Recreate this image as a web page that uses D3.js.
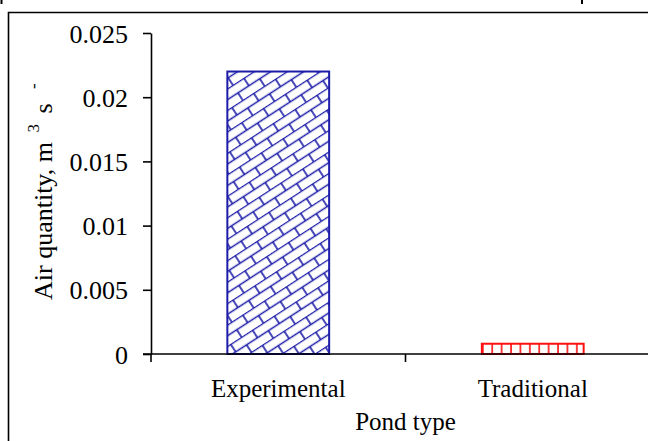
<!DOCTYPE html>
<html>
<head>
<meta charset="utf-8">
<script src="https://cdn.jsdelivr.net/npm/d3@7"></script>
<style>
  body { margin: 0; background: #fff; }
  svg { display: block; font-family: "Liberation Serif", "Times New Roman", serif; }
</style>
</head>
<body>
<svg width="648" height="441"></svg>
<script>
const categories = ['Experimental', 'Traditional']
const airQuantity = [0.022, 0.0008]
const yTicks = [0, 0.005, 0.01, 0.015, 0.02, 0.025]
const yTickLabels = ['0', '0.005', '0.01', '0.015', '0.02', '0.025']

const svg = d3.select('svg')
const plotLeft = 151, plotRight = 660, plotTop = 33, plotBottom = 354

const x = d3.scaleBand().domain(categories).range([plotLeft, plotRight]).paddingInner(0).paddingOuter(0)
const y = d3.scaleLinear().domain([0, 0.025]).range([plotBottom, plotTop])

const defs = svg.append('defs')

// diagonal brick pattern for experimental pond
const brick = defs.append('pattern')
	.attr('id', 'brick')
	.attr('patternUnits', 'userSpaceOnUse')
	.attr('width', 26)
	.attr('height', 18)
	.attr('patternTransform', 'rotate(-33)')
brick.append('rect').attr('width', 26).attr('height', 18).attr('fill', '#fff')
brick.append('path')
	.attr('d', 'M0,0.5H26M0,9.5H26M6,0.5V9.5M19,9.5V18.5')
	.attr('stroke', '#1c1ca8')
	.attr('stroke-width', 1.6)
	.attr('fill', 'none')

// vertical line pattern for traditional pond
const vlines = defs.append('pattern')
	.attr('id', 'vlines')
	.attr('patternUnits', 'userSpaceOnUse')
	.attr('width', 9.4)
	.attr('height', 20)
	.attr('x', x('Traditional') + x.bandwidth() * 0.3)
vlines.append('rect').attr('width', 9.4).attr('height', 20).attr('fill', '#fff')
vlines.append('line')
	.attr('x1', 1).attr('x2', 1).attr('y1', 0).attr('y2', 20)
	.attr('stroke', '#ff1010').attr('stroke-width', 1.6)

// outer frame
svg.append('path')
	.attr('d', 'M8.5,445V12.5H650')
	.attr('stroke', '#000').attr('stroke-width', 1.6).attr('fill', 'none')
svg.append('line').attr('x1', 1.5).attr('x2', 1.5).attr('y1', 0).attr('y2', 4)
	.attr('stroke', '#000').attr('stroke-width', 2)
svg.append('line').attr('x1', 582).attr('x2', 582).attr('y1', 0).attr('y2', 4)
	.attr('stroke', '#000').attr('stroke-width', 2)

const fills = ['url(#brick)', 'url(#vlines)']
const strokes = ['#1c1ca8', '#ff1010']
const barW = x.bandwidth() * 0.4

svg.selectAll('rect.bar')
	.data(airQuantity)
	.enter()
	.append('rect')
	.attr('class', 'bar')
	.attr('x', (d, i) => x(categories[i]) + (x.bandwidth() - barW) / 2)
	.attr('y', d => y(d))
	.attr('width', barW)
	.attr('height', d => y(0) - y(d))
	.attr('fill', (d, i) => fills[i])
	.attr('stroke', (d, i) => strokes[i])
	.attr('stroke-width', 2)

// y axis
const yAxis = svg.append('g')
	.attr('transform', 'translate(' + plotLeft + ',0)')
	.call(d3.axisLeft(y).tickValues(yTicks).tickSize(8).tickSizeOuter(0)
		.tickFormat((d, i) => yTickLabels[i]).tickPadding(15))
yAxis.select('.domain').attr('stroke-width', 1.6)
yAxis.selectAll('.tick line').attr('stroke-width', 1.6)
yAxis.selectAll('.tick text')
	.attr('font-size', 26)
	.attr('font-family', '"Liberation Serif", serif')
	.attr('fill', '#000')
	.attr('dy', '0.35em')

// x axis
svg.append('line')
	.attr('x1', plotLeft - 8).attr('x2', 648).attr('y1', plotBottom).attr('y2', plotBottom)
	.attr('stroke', '#000').attr('stroke-width', 1.6)
svg.selectAll('line.xtick')
	.data([plotLeft, x('Traditional')])
	.enter()
	.append('line')
	.attr('class', 'xtick')
	.attr('x1', d => d).attr('x2', d => d)
	.attr('y1', plotBottom).attr('y2', plotBottom + 8)
	.attr('stroke', '#000').attr('stroke-width', 1.6)

svg.selectAll('text.cat')
	.data(categories)
	.enter()
	.append('text')
	.attr('class', 'cat')
	.attr('x', d => x(d) + x.bandwidth() / 2)
	.attr('y', 397)
	.attr('text-anchor', 'middle')
	.attr('font-size', 25)
	.text(d => d)

svg.append('text')
	.attr('x', x('Traditional'))
	.attr('y', 430)
	.attr('text-anchor', 'middle')
	.attr('font-size', 25)
	.text('Pond type')

// y axis title
const yt = svg.append('text')
	.attr('transform', 'translate(52,300) rotate(-90)')
	.attr('font-size', 26)
yt.append('tspan').text('Air quantity, m ')
yt.append('tspan').attr('dy', -13).attr('dx', 3).attr('font-size', 17).text('3')
yt.append('tspan').attr('dy', 13).attr('dx', 4).text(' s ')
yt.append('tspan').attr('dy', -13).attr('dx', 8).attr('font-size', 17).text('-')
</script>
</body>
</html>
